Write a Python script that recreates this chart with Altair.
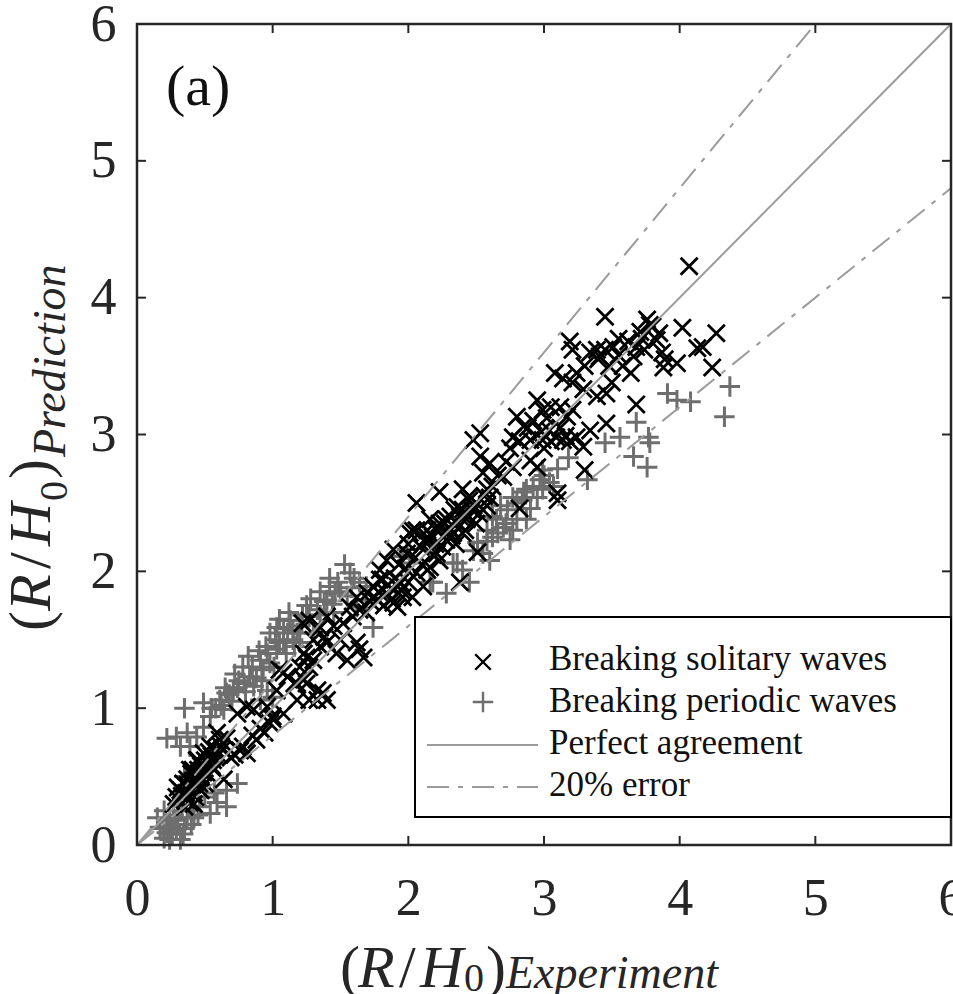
import altair as alt
import pandas as pd

# ---------------- data ----------------
# Breaking solitary waves (black x markers): experiment / prediction
sol_exp = [
    4.07, 3.45, 3.19, 3.21, 3.76, 3.80, 3.71, 3.83, 4.02, 4.27, 4.13, 4.17, 4.24, 3.98, 3.89, 3.87,
    3.88, 3.66, 3.51, 3.39, 3.41, 3.34, 3.08, 3.14, 3.24, 3.21, 3.29, 3.50, 3.46, 3.39, 2.95, 2.99,
    3.68, 3.12, 3.17, 3.21, 3.04, 3.09, 3.14, 3.19, 2.99, 3.24, 3.29, 3.46, 3.34, 2.90, 2.95, 3.30,
    3.10,
    2.53, 2.48, 2.80, 2.77, 2.85, 2.90, 2.53, 2.60, 2.55, 2.77, 2.70, 2.23, 2.06, 2.40, 2.45, 2.36,
    2.60, 2.55, 2.16, 2.23, 2.28, 2.14, 2.03, 2.33, 2.43, 1.89, 1.84, 1.99, 2.09, 2.21, 2.51, 2.82,
    3.10, 2.38, 2.06, 1.94, 1.84, 1.92, 2.16, 2.11, 1.79,
    2.01, 2.06, 2.14, 2.21, 2.28, 2.23, 2.14, 1.79, 1.81, 1.74, 1.92, 1.96, 2.03, 1.89, 1.77, 1.62,
    1.57, 1.64, 1.69, 1.59, 1.27, 1.22, 1.35, 1.40, 1.50, 1.40, 1.35, 1.62, 1.64, 1.67, 1.47, 1.55,
    1.25, 1.27, 1.05, 1.11, 1.18, 1.25, 1.33, 1.37, 1.33, 1.40, 1.03, 0.96, 1.00,
    0.81, 0.86, 0.74, 0.59, 0.61, 0.54, 0.49, 0.44, 0.39, 0.37, 0.32, 0.29, 0.42, 0.46, 0.49, 0.57,
    0.64, 0.39, 0.35, 1.08, 1.16, 1.23, 1.18, 1.08, 0.98, 0.94, 0.88, 0.81, 0.76, 0.69, 1.23, 1.27,
    0.30, 0.34, 0.40, 0.44, 0.47, 0.52, 0.55, 0.36, 0.42, 0.50, 0.58, 0.62, 0.66, 0.27, 0.33,
    2.30, 2.38, 2.47, 2.50, 2.42, 2.26, 2.35, 2.20, 2.62, 2.66, 2.72,
    0.38, 0.41, 0.45, 0.48, 0.52, 0.36, 0.43, 0.47, 0.40, 0.55,
    1.72, 1.78, 1.85, 1.90, 1.95, 2.00, 1.82, 1.70, 1.88, 1.98,
    2.18, 2.22, 2.27, 2.31, 2.36, 2.40, 2.44, 2.48, 2.52, 2.25, 2.32, 2.40, 2.15, 2.56, 2.58,
    2.98, 3.05, 3.12, 3.00, 3.16, 3.40, 3.45, 3.55, 3.48, 3.72, 3.78, 3.85, 3.74,
    0.45, 0.50, 0.53, 0.56, 0.60, 0.63, 0.41, 0.37,
    0.72, 0.78, 0.85, 0.91, 1.00,
    1.30, 1.38, 1.45, 1.52, 1.20, 1.30,
    2.05, 2.10, 2.12, 2.00, 1.93, 2.18,
    2.28, 2.34, 2.45, 2.50, 2.58,
    2.75, 2.82, 2.88, 2.92, 3.02, 3.05,
    3.55, 3.62, 3.68, 3.58, 3.64, 3.30,
]
sol_pred = [
    4.23, 3.86, 3.68, 3.62, 3.84, 3.79, 3.75, 3.69, 3.78, 3.74, 3.63, 3.64, 3.49, 3.52, 3.55, 3.60,
    3.49, 3.57, 3.64, 3.62, 3.57, 3.60, 3.45, 3.41, 3.45, 3.38, 3.33, 3.38, 3.30, 3.28, 3.25, 3.18,
    3.22, 3.20, 3.13, 3.18, 3.03, 2.98, 2.96, 2.95, 2.96, 2.98, 2.91, 3.08, 3.03, 2.81, 2.76, 2.74,
    2.57,
    3.01, 2.96, 3.13, 2.98, 3.06, 2.96, 2.84, 2.79, 2.72, 2.76, 2.69, 2.58, 2.50, 2.60, 2.52, 2.47,
    2.54, 2.45, 2.38, 2.35, 2.38, 2.30, 2.30, 2.28, 2.38, 2.16, 2.08, 2.13, 2.18, 2.13, 2.14, 2.46,
    2.52, 1.92, 1.99, 1.92, 1.84, 1.74, 2.03, 1.89, 1.94,
    2.28, 2.30, 2.25, 2.30, 2.23, 2.08, 2.01, 2.01, 1.94, 1.89, 1.89, 1.81, 1.81, 1.77, 1.79, 1.81,
    1.74, 1.72, 1.70, 1.67, 1.64, 1.62, 1.59, 1.67, 1.50, 1.48, 1.45, 1.48, 1.43, 1.37, 1.40, 1.35,
    1.37, 1.30, 1.28, 1.23, 1.18, 1.18, 1.13, 1.11, 1.06, 1.06, 1.13, 1.01, 0.94,
    1.01, 0.99, 0.96, 0.82, 0.77, 0.72, 0.67, 0.62, 0.55, 0.48, 0.40, 0.35, 0.38, 0.45, 0.53, 0.55,
    0.48, 0.31, 0.28, 1.26, 1.18, 1.21, 1.06, 0.96, 0.89, 0.82, 0.77, 0.67, 0.69, 0.64, 1.40, 1.06,
    0.42, 0.45, 0.40, 0.50, 0.58, 0.60, 0.65, 0.33, 0.30, 0.45, 0.70, 0.72, 0.78, 0.30, 0.36,
    2.32, 2.40, 2.45, 2.50, 2.30, 2.25, 2.20, 2.20, 2.62, 2.70, 2.80,
    0.42, 0.47, 0.55, 0.49, 0.52, 0.38, 0.35, 0.40, 0.52, 0.58,
    1.78, 1.85, 1.90, 1.95, 1.86, 1.92, 1.75, 1.84, 1.80, 2.02,
    2.25, 2.32, 2.35, 2.40, 2.35, 2.45, 2.40, 2.48, 2.42, 2.18, 2.26, 2.28, 2.22, 2.55, 2.60,
    3.02, 2.95, 3.05, 2.90, 2.99, 3.55, 3.62, 3.58, 3.50, 3.70, 3.80, 3.74, 3.62,
    0.62, 0.62, 0.68, 0.62, 0.66, 0.70, 0.55, 0.44,
    0.66, 0.72, 0.80, 0.85, 0.92,
    1.50, 1.52, 1.60, 1.62, 1.30, 1.35,
    2.10, 2.05, 2.22, 2.20, 2.05, 2.12,
    2.28, 2.45, 2.55, 2.35, 2.48,
    2.90, 2.95, 3.05, 3.10, 3.12, 3.20,
    3.70, 3.68, 3.64, 3.50, 3.45, 3.50,
]

# Breaking periodic waves (grey + markers): experiment / prediction
per_exp = [
    4.37, 4.33, 3.91, 3.98, 4.08, 3.68, 3.77, 3.78, 3.56, 3.45, 3.66, 3.76, 3.32, 3.18, 2.97, 3.04,
    2.99, 2.87, 2.99, 3.07, 2.84, 2.95, 2.77, 2.73, 2.65, 2.80, 2.87, 2.70, 2.77, 2.62, 2.75, 2.51,
    2.55, 2.60, 2.36, 2.40, 2.45, 2.16, 1.99, 1.94,
    1.53, 1.57, 1.42, 1.46, 1.40, 1.64, 1.69, 1.69, 1.62, 1.33, 1.27, 1.13, 1.03, 1.11, 1.15, 0.98,
    1.05, 1.15, 0.96, 0.91, 0.98, 0.93, 1.74, 1.96, 2.01, 2.18, 2.33, 2.28, 0.96, 1.00, 0.91,
    0.35, 0.22, 0.29, 0.37, 0.32, 0.39, 0.49, 0.54, 0.61, 0.66, 0.71, 0.79, 0.83, 1.03, 1.08, 1.16,
    1.01, 0.86, 0.64, 0.49, 0.44, 0.74, 0.66, 0.59, 0.66, 0.54, 0.37, 0.24, 0.17, 0.22, 0.29, 0.24,
    0.32, 0.15, 0.35, 0.57, 0.46,
    0.58, 0.70, 0.75, 0.88, 1.20, 1.25, 1.45, 1.50, 1.38, 0.85, 1.10, 1.20, 1.30,
    0.20, 0.27, 0.40, 0.45, 0.30, 0.50,
    0.20, 0.26, 0.30, 0.34, 0.19, 0.25, 0.40,
    0.62, 0.68, 0.74, 0.80, 0.92, 0.95, 1.02, 1.08, 1.22, 1.18,
    2.62, 2.68, 2.72, 2.80, 2.58, 2.90,
    1.35, 1.48, 1.55, 1.60, 1.44,
    0.55, 0.65, 0.72, 0.78, 0.82, 0.90, 1.05, 1.12, 1.28, 1.35, 1.42, 1.58,
    2.48, 2.58, 2.66, 2.85, 2.92, 3.00, 3.10,
    0.28, 0.35, 0.42, 0.33, 0.22,
]
per_pred = [
    3.35, 3.13, 3.30, 3.25, 3.24, 3.09, 2.98, 2.94, 2.98, 2.94, 2.84, 2.76, 2.67, 2.83, 2.67, 2.65,
    2.74, 2.60, 2.60, 2.62, 2.52, 2.54, 2.54, 2.45, 2.38, 2.38, 2.38, 2.32, 2.30, 2.25, 2.23, 2.21,
    2.13, 2.08, 2.06, 2.01, 1.92, 1.92, 2.16, 2.11,
    2.05, 1.99, 1.89, 1.84, 1.79, 1.92, 1.89, 1.79, 1.74, 1.72, 1.67, 1.64, 1.59, 1.55, 1.57, 1.55,
    1.48, 1.50, 1.40, 1.35, 1.33, 1.28, 1.59, 2.11, 2.06, 1.92, 2.06, 1.84, 1.13, 1.08, 1.06,
    1.00, 0.78, 0.79, 0.82, 0.72, 0.72, 1.04, 0.94, 1.06, 1.11, 1.13, 1.18, 1.23, 1.43, 1.48, 1.45,
    1.30, 1.16, 0.99, 0.86, 0.79, 0.45, 0.40, 0.31, 0.28, 0.23, 0.20, 0.18, 0.13, 0.09, 0.11, 0.04,
    0.04, 0.20, 0.50, 0.38, 0.28,
    1.00, 1.05, 1.20, 1.22, 1.60, 1.75, 1.70, 1.85, 1.78, 1.30, 1.40, 1.48, 1.55,
    0.25, 0.22, 0.15, 0.22, 0.30, 0.35,
    0.05, 0.08, 0.15, 0.08, 0.12, 0.13, 0.25,
    1.02, 1.10, 1.15, 1.12, 1.20, 1.45, 1.50, 1.58, 1.68, 1.55,
    2.40, 2.48, 2.35, 2.50, 2.30, 2.46,
    1.85, 1.92, 1.82, 1.95, 1.76,
    1.00, 1.15, 1.25, 1.30, 1.38, 1.42, 1.65, 1.70, 1.80, 1.68, 1.95, 1.88,
    2.15, 2.22, 2.28, 2.58, 2.62, 2.70, 2.75,
    0.18, 0.12, 0.20, 0.25, 0.15,
]

# Reference lines
perfect_x = [0, 6]
perfect_y = [0, 6]
upper_x = [0, 5]
upper_y = [0, 6]
lower_x = [0, 6]
lower_y = [0, 4.8]

tick_values = [0, 1, 2, 3, 4, 5, 6]
legend_labels = ["Breaking solitary waves", "Breaking periodic waves",
                 "Perfect agreement", "20% error"]
panel_label = "(a)"

# ---------------- styling ----------------
W, H = 814, 821
FONT = "Liberation Serif"
DARK = "#262626"
GREY_MARK = "#6e6e6e"
GREY_LINE = "#9b9b9b"
DASHDOT = [22, 9, 5, 9]
X_PATH = "M-1,-1L1,1M-1,1L1,-1"
P_PATH = "M-1,0L1,0M0,-1L0,1"

sol = pd.DataFrame({"e": sol_exp, "p": sol_pred})
per = pd.DataFrame({"e": per_exp, "p": per_pred})
perf = pd.DataFrame({"e": perfect_x, "p": perfect_y})
err = pd.DataFrame({"e": upper_x + lower_x, "p": upper_y + lower_y,
                    "g": ["u", "u", "l", "l"]})
ticks_df = pd.DataFrame({"v": tick_values})
one = pd.DataFrame({"k": [0]})


def X(field):
    return alt.X(f"{field}:Q", title=None,
                 scale=alt.Scale(domain=[0, 6], nice=False, zero=False),
                 axis=alt.Axis(values=tick_values, ticks=False, tickSize=0, domain=False,
                               grid=False, labelFont=FONT, labelFontSize=52,
                               labelColor=DARK, labelPadding=28, labelFlush=False,
                               labelOverlap=False, labelBound=False, format="d"))


def Y(field):
    return alt.Y(f"{field}:Q", title=None,
                 scale=alt.Scale(domain=[0, 6], nice=False, zero=False),
                 axis=alt.Axis(values=tick_values, ticks=False, tickSize=0, domain=False,
                               grid=False, labelFont=FONT, labelFontSize=52,
                               labelColor=DARK, labelPadding=21, labelFlush=False,
                               labelOverlap=False, labelBound=False, format="d"))


def txt(s, x, y, size, style="normal", angle=0, color=DARK):
    return alt.Chart(one).mark_text(
        text=s, font=FONT, fontSize=size, fontStyle=style, angle=angle,
        align="left", baseline="alphabetic", color=color
    ).encode(x=alt.value(x), y=alt.value(y))


periodic = alt.Chart(per).mark_point(
    shape=P_PATH, size=420, filled=False, stroke=GREY_MARK, strokeWidth=3.0, opacity=1
).encode(x=X("e"), y=Y("p"))

solitary = alt.Chart(sol).mark_point(
    shape=X_PATH, size=290, filled=False, stroke="black", strokeWidth=2.8, opacity=1
).encode(x=X("e"), y=Y("p"))

perfect = alt.Chart(perf).mark_line(color=GREY_LINE, strokeWidth=2, clip=True).encode(
    x=X("e"), y=Y("p"))

errlines = alt.Chart(err).mark_line(color=GREY_LINE, strokeWidth=2, strokeDash=DASHDOT,
                                    clip=True).encode(x=X("e"), y=Y("p"), detail="g:N")

tick_style = dict(color=DARK, strokeWidth=2)
tb = alt.Chart(ticks_df).mark_rule(**tick_style).encode(x=X("v"), y=alt.value(H), y2=alt.value(H - 9))
tt = alt.Chart(ticks_df).mark_rule(**tick_style).encode(x=X("v"), y=alt.value(0), y2=alt.value(9))
tl = alt.Chart(ticks_df).mark_rule(**tick_style).encode(y=Y("v"), x=alt.value(0), x2=alt.value(9))
tr = alt.Chart(ticks_df).mark_rule(**tick_style).encode(y=Y("v"), x=alt.value(W), x2=alt.value(W - 9))

frame = alt.Chart(one).mark_rect(fill=None, fillOpacity=0, stroke=DARK, strokeWidth=2.5).encode(
    x=alt.value(0), x2=alt.value(W), y=alt.value(0), y2=alt.value(H))

# legend
leg_box = alt.Chart(one).mark_rect(fill="white", stroke="black", strokeWidth=2).encode(
    x=alt.value(278), x2=alt.value(W), y=alt.value(593), y2=alt.value(793))
leg_x = alt.Chart(one).mark_point(shape=X_PATH, size=240, filled=False, stroke="black",
                                  strokeWidth=2.4, opacity=1).encode(
    x=alt.value(346), y=alt.value(638))
leg_p = alt.Chart(one).mark_point(shape=P_PATH, size=420, filled=False, stroke=GREY_MARK,
                                  strokeWidth=2.4, opacity=1).encode(
    x=alt.value(346), y=alt.value(678))
leg_l1 = alt.Chart(one).mark_rule(color=GREY_LINE, strokeWidth=2).encode(
    x=alt.value(290), x2=alt.value(401), y=alt.value(721))
leg_l2 = alt.Chart(one).mark_rule(color=GREY_LINE, strokeWidth=2, strokeDash=DASHDOT).encode(
    x=alt.value(290), x2=alt.value(401), y=alt.value(763))
leg_texts = [txt(legend_labels[i], 412, 646 + 42 * i, 35, color="#111") for i in range(4)]

# panel label
lab = txt(panel_label, 29, 81, 58, color="#111")

# axis titles built from pieces (math-style)
xt = [
    txt("(", 203, 963, 60),
    txt("R", 221, 963, 60, "italic"),
    txt("/", 262, 963, 60),
    txt("H", 283, 963, 60, "italic"),
    txt("0", 327, 967, 40),
    txt(")", 349, 963, 60),
    txt("Experiment", 369, 964, 46, "italic"),
]
yt = [
    txt("(", -87, 607, 60, angle=270),
    txt("R", -87, 587, 60, "italic", angle=270),
    txt("/", -87, 545, 60, angle=270),
    txt("H", -87, 522, 60, "italic", angle=270),
    txt("0", -70, 477, 40, angle=270),
    txt(")", -87, 455, 60, angle=270),
    txt("Prediction", -72, 433, 46, "italic", angle=270),
]

chart = alt.layer(
    periodic, solitary, perfect, errlines, tb, tt, tl, tr, frame,
    leg_box, leg_x, leg_p, leg_l1, leg_l2, *leg_texts, lab, *xt, *yt
).properties(
    width=W, height=H,
    autosize=alt.AutoSizeParams(type="none"),
    padding={"left": 137, "top": 24, "right": 2, "bottom": 149},
).configure_view(
    strokeWidth=0
).configure(background="white")

chart.save("out.html", embed_options={"renderer": "svg", "actions": False})
